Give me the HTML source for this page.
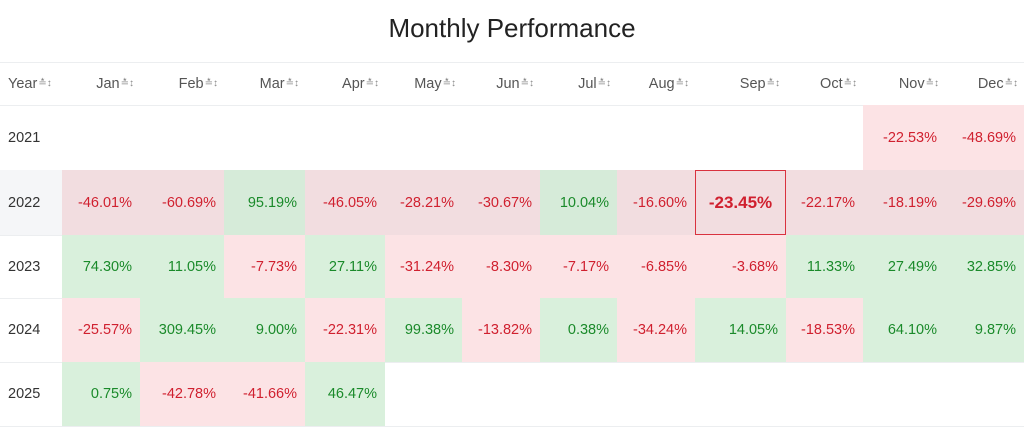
<!DOCTYPE html>
<html><head><meta charset="utf-8"><style>
body{margin:0;width:1024px;height:438px;background:#fff;font-family:"Liberation Sans",sans-serif;overflow:hidden;position:relative}
#title{position:absolute;top:13px;left:0;width:1024px;text-align:center;font-size:26px;color:#222}
.c{position:absolute;display:flex;align-items:center;justify-content:flex-end;padding-right:8px;font-size:14.5px;box-sizing:border-box}
.h{color:#555;font-size:14.5px;padding-right:6px}
.h span{font-size:10px;color:#888;margin-left:1px}
.yr{justify-content:flex-start;padding-left:8px;padding-right:0}
.line{position:absolute;left:0;width:1024px;height:1px;background:#eceef0}
</style></head><body>
<div id="title">Monthly Performance</div>
<div id="tbl"></div>
<script>
const months=["Jan","Feb","Mar","Apr","May","Jun","Jul","Aug","Sep","Oct","Nov","Dec"];
const years=["2021","2022","2023","2024","2025"];
const v2021=[null,null,null,null,null,null,null,null,null,null,-22.53,-48.69];
const v2022=[-46.01,-60.69,95.19,-46.05,-28.21,-30.67,10.04,-16.60,-23.45,-22.17,-18.19,-29.69];
const v2023=[74.30,11.05,-7.73,27.11,-31.24,-8.30,-7.17,-6.85,-3.68,11.33,27.49,32.85];
const v2024=[-25.57,309.45,9.00,-22.31,99.38,-13.82,0.38,-34.24,14.05,-18.53,64.10,9.87];
const v2025=[0.75,-42.78,-41.66,46.47,null,null,null,null,null,null,null,null];
const rows=[v2021,v2022,v2023,v2024,v2025];
const colX=[0,62,140,224,305,385,462,540,617,695,786,863,945,1024];
const rowY=[105,170,235,298,362,426];
const T=document.getElementById('tbl');
function cell(x,y,w,h,txt,cls){const d=document.createElement('div');d.className='c '+(cls||'');d.style.left=x+'px';d.style.top=y+'px';d.style.width=w+'px';d.style.height=h+'px';d.innerHTML=txt;T.appendChild(d);return d;}
function line(y){const l=document.createElement('div');l.className='line';l.style.top=y+'px';


T.appendChild(l);}
line(62);line(105);
const hy=cell(0,62,62,43,'Year<span>≛↕</span>','h yr');


months.forEach((m,i)=>{const d=cell(colX[i+1],62,colX[i+2]-colX[i+1],43,m+'<span>≛↕</span>','h');

});
years.forEach((yr,r)=>{
const y=rowY[r],h=rowY[r+1]-rowY[r];const hover=r===1;
const yc=cell(0,y,62,h,yr,'yr');yc.style.color='#333';if(hover)yc.style.background='#f5f6f8';


rows[r].forEach((v,i)=>{
const x=colX[i+1],w=colX[i+2]-x;
const d=cell(x,y,w,h,v==null?'':v.toFixed(2)+'%','');


if(v!=null){const pos=v>=0;d.style.color=pos?'#1a8a2a':'#d0202f';
d.style.background=pos?(hover?'#d6ebd9':'#d9f0dc'):(hover?'#f2dde0':'#fce3e5');}
if(r===1&&i===8){d.style.border='1.5px solid #d9323f';d.style.fontWeight='bold';d.style.fontSize='17px';d.style.justifyContent='center';d.style.paddingRight='0';}
});
line(rowY[r+1]);
});
</script>
</body></html>
